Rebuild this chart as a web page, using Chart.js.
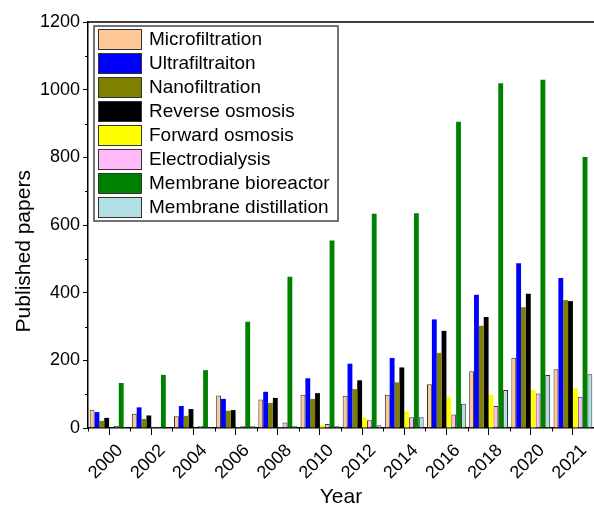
<!DOCTYPE html>
<html>
<head>
<meta charset="utf-8">
<script src="https://cdn.jsdelivr.net/npm/chart.js@4.4.1/dist/chart.umd.min.js"></script>
<style>
  body { margin: 0; background: #fff; }
  #wrap { width: 594px; height: 511px; }
</style>
</head>
<body>
<div id="wrap"><canvas id="myChart"></canvas></div>
<script>
// data
const years = ['2000', '2002', '2004', '2006', '2008', '2010', '2012', '2014', '2016', '2018', '2020', '2021'];
const microfiltration = [54, 42, 35, 96, 84, 98, 95, 98, 129, 168, 208, 174];
const ultrafiltration = [47, 61, 65, 86, 107, 147, 190, 207, 321, 394, 487, 443];
const nanofiltration = [21, 27, 36, 51, 74, 86, 115, 135, 222, 302, 357, 378];
const reverseOsmosis = [30, 37, 56, 53, 89, 103, 141, 179, 287, 328, 397, 375];
const forwardOsmosis = [0, 1, 0, 2, 2, 9, 30, 49, 92, 98, 113, 118];
const electrodialysis = [6, 4, 7, 5, 16, 12, 23, 32, 40, 65, 102, 92];
const bioreactor = [133, 157, 171, 314, 447, 554, 633, 635, 905, 1019, 1029, 801];
const distillation = [3, 2, 3, 5, 5, 5, 8, 32, 72, 112, 157, 159];
const yTicks = [0, 200, 400, 600, 800, 1000, 1200];

const FONT = "'Liberation Sans', Arial, sans-serif";

function bar(label, data, color, outlined) {
    return {
        label: label,
        data: data,
        backgroundColor: color,
        borderColor: outlined ? '#333' : color,
        borderWidth: outlined ? 1 : 0,
        borderSkipped: 'bottom',
        categoryPercentage: 0.92,
        barPercentage: 1.0
    };
}

// frame line, minor ticks and the boxed legend inside the plot
const extras = {
    id: 'extras',
    afterDraw(chart) {
        const ctx = chart.ctx;
        const a = chart.chartArea;
        const x = chart.scales.x;
        const y = chart.scales.y;
        ctx.save();
        ctx.strokeStyle = '#000';
        ctx.lineWidth = 1.5;
        ctx.beginPath();
        ctx.moveTo(a.left, a.top);
        ctx.lineTo(a.right, a.top);
        ctx.stroke();

        ctx.lineWidth = 1;
        ctx.beginPath();
        for (let v = 100; v < 1200; v += 200) {
            const py = Math.round(y.getPixelForValue(v)) + 0.5;
            ctx.moveTo(a.left - 3, py);
            ctx.lineTo(a.left, py);
        }
        const bw = x.getPixelForValue(1) - x.getPixelForValue(0);
        for (let i = 0; i <= years.length; i++) {
            const px = Math.round(x.getPixelForValue(i) - bw / 2) + 0.5;
            ctx.moveTo(px, a.bottom);
            ctx.lineTo(px, a.bottom + 3.5);
        }
        ctx.stroke();

        // legend
        const lx = a.left + 6, ly = a.top + 4, lw = 244, lh = 195;
        ctx.fillStyle = '#fff';
        ctx.fillRect(lx, ly, lw, lh);
        ctx.strokeStyle = '#444';
        ctx.lineWidth = 1.5;
        ctx.strokeRect(lx, ly, lw, lh);
        ctx.font = '19px ' + FONT;
        ctx.textBaseline = 'middle';
        chart.data.datasets.forEach((ds, i) => {
            const sy = ly + 3 + i * 24;
            ctx.fillStyle = ds.backgroundColor;
            ctx.fillRect(lx + 4, sy, 44, 21);
            ctx.strokeStyle = '#333';
            ctx.lineWidth = 1;
            ctx.strokeRect(lx + 4.5, sy + 0.5, 43, 20);
            ctx.fillStyle = '#000';
            ctx.fillText(ds.label, lx + 55, sy + 11);
        });
        ctx.restore();
    }
};

const ctx = document.getElementById('myChart').getContext('2d');
new Chart(ctx, {
    type: 'bar',
    data: {
        labels: years,
        datasets: [
            bar('Microfiltration', microfiltration, '#FFC896', true),
            bar('Ultrafiltraiton', ultrafiltration, '#0000FF', false),
            bar('Nanofiltration', nanofiltration, '#808000', false),
            bar('Reverse osmosis', reverseOsmosis, '#000000', false),
            bar('Forward osmosis', forwardOsmosis, '#FFFF00', false),
            bar('Electrodialysis', electrodialysis, '#FFB8F8', true),
            bar('Membrane bioreactor', bioreactor, '#008000', false),
            bar('Membrane distillation', distillation, '#B0E0E6', true)
        ]
    },
    options: {
        responsive: true,
        maintainAspectRatio: false,
        animation: false,
        layout: { padding: { top: 22, right: 0, left: 0, bottom: 0 } },
        plugins: {
            legend: { display: false },
            tooltip: { enabled: false }
        },
        scales: {
            x: {
                afterFit: (s) => { s.height = 83; },
                grid: { display: true, drawOnChartArea: false, offset: false, tickLength: 7, tickColor: '#000', tickWidth: 1 },
                border: { color: '#000', width: 1.5 },
                ticks: {
                    color: '#000', font: { family: FONT, size: 18 },
                    minRotation: 45, maxRotation: 45, autoSkip: false, labelOffset: 11, padding: 5
                },
                title: { display: true, text: 'Year', color: '#000', font: { family: FONT, size: 21 }, padding: { top: 0, bottom: 1 } }
            },
            y: {
                min: 0,
                max: 1200,
                afterFit: (s) => { s.width = 88; },
                afterBuildTicks: (s) => { s.ticks = yTicks.map(v => ({ value: v })); },
                grid: { display: true, drawOnChartArea: false, tickLength: 5, tickColor: '#000', tickWidth: 1 },
                border: { color: '#000', width: 1.5 },
                ticks: { color: '#000', font: { family: FONT, size: 18 }, padding: 3, callback: (v) => String(v) },
                title: {
                    display: true,
                    text: 'Published papers' + '\u00a0'.repeat(9),
                    color: '#000', font: { family: FONT, size: 21 }, padding: { top: 12, bottom: 0 }
                }
            }
        }
    },
    plugins: [extras]
});
</script>
</body>
</html>
